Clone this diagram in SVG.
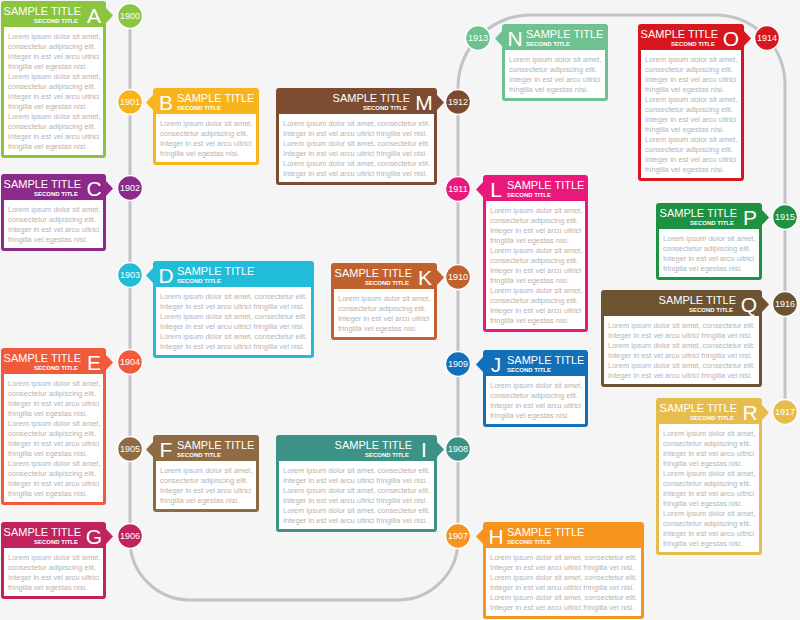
<svg xmlns="http://www.w3.org/2000/svg" width="800" height="620" viewBox="0 0 800 620">
<style>
.bg{fill:#f5f5f5}
.track{fill:none;stroke:#c3c3c7;stroke-width:3}
.panel{fill:#ffffff}
.t{font-family:"Liberation Sans",Arial,sans-serif;fill:#ffffff}
.tt{font-size:11px}
.st{font-size:6px;font-weight:bold}
.lt{font-size:21px}
.body{font-family:"Liberation Sans",Arial,sans-serif;font-size:7.5px;fill:#b4b4b4}
.dot{stroke:#ffffff;stroke-width:1.5}
.yr{font-family:"Liberation Sans",Arial,sans-serif;font-size:9px;fill:#ffffff;text-anchor:middle}
.e{text-anchor:end}
.m{text-anchor:middle}
</style>
<rect class="bg" x="0" y="0" width="800" height="620"/>
<g id="connectors">
<path class="track" d="M130,16 V540 A60,60 0 0 0 190,600 H398 A60,60 0 0 0 458,540 V88 A73,73 0 0 1 531,15 H715 A70,70 0 0 1 785,85 V412"/>
</g>

<g id="node-A" fill="#8bc53f">
<g transform="translate(1,1)">
<rect width="105" height="157" rx="3"/><polygon points="105,7 112,14.5 105,22"/>
<rect class="panel" x="3" y="26" width="99" height="128"/>
<text class="t tt e" x="80" y="14">SAMPLE TITLE</text>
<text class="t st e" x="77" y="22">SECOND TITLE</text>
<text class="t lt m" x="93" y="22">A</text>
<text class="body" x="7" y="38"><tspan x="7">Lorem ipsum dolor sit amet,</tspan><tspan x="7" dy="10">consectetur adipiscing elit.</tspan><tspan x="7" dy="10">Integer in est vel arcu ultrici</tspan><tspan x="7" dy="10">fringilla vel egestas nisi.</tspan><tspan x="7" dy="10">Lorem ipsum dolor sit amet,</tspan><tspan x="7" dy="10">consectetur adipiscing elit.</tspan><tspan x="7" dy="10">Integer in est vel arcu ultrici</tspan><tspan x="7" dy="10">fringilla vel egestas nisi.</tspan><tspan x="7" dy="10">Lorem ipsum dolor sit amet,</tspan><tspan x="7" dy="10">consectetur adipiscing elit.</tspan><tspan x="7" dy="10">Integer in est vel arcu ultrici</tspan><tspan x="7" dy="10">fringilla vel egestas nisi.</tspan></text>
</g>
<circle class="dot" cx="130" cy="16" r="12.5"/><text class="yr" x="130" y="19">1900</text>
</g>

<g id="node-B" fill="#f8b41c">
<g transform="translate(153,88)">
<rect width="106" height="77" rx="3"/><polygon points="0,7 -7,14.5 0,22"/>
<rect class="panel" x="3" y="26" width="100" height="48"/>
<text class="t tt" x="24" y="14">SAMPLE TITLE</text>
<text class="t st" x="24" y="22">SECOND TITLE</text>
<text class="t lt m" x="13" y="22">B</text>
<text class="body" x="7" y="38"><tspan x="7">Lorem ipsum dolor sit amet,</tspan><tspan x="7" dy="10">consectetur adipiscing elit.</tspan><tspan x="7" dy="10">Integer in est vel arcu ultrici</tspan><tspan x="7" dy="10">fringilla vel egestas nisi.</tspan></text>
</g>
<circle class="dot" cx="130" cy="102" r="12.5"/><text class="yr" x="130" y="105">1901</text>
</g>

<g id="node-C" fill="#8b2a8a">
<g transform="translate(1,174)">
<rect width="105" height="77" rx="3"/><polygon points="105,7 112,14.5 105,22"/>
<rect class="panel" x="3" y="26" width="99" height="48"/>
<text class="t tt e" x="80" y="14">SAMPLE TITLE</text>
<text class="t st e" x="77" y="22">SECOND TITLE</text>
<text class="t lt m" x="93" y="22">C</text>
<text class="body" x="7" y="38"><tspan x="7">Lorem ipsum dolor sit amet,</tspan><tspan x="7" dy="10">consectetur adipiscing elit.</tspan><tspan x="7" dy="10">Integer in est vel arcu ultrici</tspan><tspan x="7" dy="10">fringilla vel egestas nisi.</tspan></text>
</g>
<circle class="dot" cx="130" cy="188" r="12.5"/><text class="yr" x="130" y="191">1902</text>
</g>

<g id="node-D" fill="#21bcd8">
<g transform="translate(153,261)">
<rect width="161" height="97" rx="3"/><polygon points="0,7 -7,14.5 0,22"/>
<rect class="panel" x="3" y="26" width="155" height="68"/>
<text class="t tt" x="24" y="14">SAMPLE TITLE</text>
<text class="t st" x="24" y="22">SECOND TITLE</text>
<text class="t lt m" x="13" y="22">D</text>
<text class="body" x="7" y="38"><tspan x="7">Lorem ipsum dolor sit amet, consectetur elit.</tspan><tspan x="7" dy="10">Integer in est vel arcu ultrici fringilla vel nisi.</tspan><tspan x="7" dy="10">Lorem ipsum dolor sit amet, consectetur elit.</tspan><tspan x="7" dy="10">Integer in est vel arcu ultrici fringilla vel nisi.</tspan><tspan x="7" dy="10">Lorem ipsum dolor sit amet, consectetur elit.</tspan><tspan x="7" dy="10">Integer in est vel arcu ultrici fringilla vel nisi.</tspan></text>
</g>
<circle class="dot" cx="130" cy="275" r="12.5"/><text class="yr" x="130" y="278">1903</text>
</g>

<g id="node-E" fill="#f15a3a">
<g transform="translate(1,348)">
<rect width="105" height="157" rx="3"/><polygon points="105,7 112,14.5 105,22"/>
<rect class="panel" x="3" y="26" width="99" height="128"/>
<text class="t tt e" x="80" y="14">SAMPLE TITLE</text>
<text class="t st e" x="77" y="22">SECOND TITLE</text>
<text class="t lt m" x="93" y="22">E</text>
<text class="body" x="7" y="38"><tspan x="7">Lorem ipsum dolor sit amet,</tspan><tspan x="7" dy="10">consectetur adipiscing elit.</tspan><tspan x="7" dy="10">Integer in est vel arcu ultrici</tspan><tspan x="7" dy="10">fringilla vel egestas nisi.</tspan><tspan x="7" dy="10">Lorem ipsum dolor sit amet,</tspan><tspan x="7" dy="10">consectetur adipiscing elit.</tspan><tspan x="7" dy="10">Integer in est vel arcu ultrici</tspan><tspan x="7" dy="10">fringilla vel egestas nisi.</tspan><tspan x="7" dy="10">Lorem ipsum dolor sit amet,</tspan><tspan x="7" dy="10">consectetur adipiscing elit.</tspan><tspan x="7" dy="10">Integer in est vel arcu ultrici</tspan><tspan x="7" dy="10">fringilla vel egestas nisi.</tspan></text>
</g>
<circle class="dot" cx="130" cy="362" r="12.5"/><text class="yr" x="130" y="365">1904</text>
</g>

<g id="node-F" fill="#8e6b43">
<g transform="translate(153,435)">
<rect width="106" height="77" rx="3"/><polygon points="0,7 -7,14.5 0,22"/>
<rect class="panel" x="3" y="26" width="100" height="48"/>
<text class="t tt" x="24" y="14">SAMPLE TITLE</text>
<text class="t st" x="24" y="22">SECOND TITLE</text>
<text class="t lt m" x="13" y="22">F</text>
<text class="body" x="7" y="38"><tspan x="7">Lorem ipsum dolor sit amet,</tspan><tspan x="7" dy="10">consectetur adipiscing elit.</tspan><tspan x="7" dy="10">Integer in est vel arcu ultrici</tspan><tspan x="7" dy="10">fringilla vel egestas nisi.</tspan></text>
</g>
<circle class="dot" cx="130" cy="449" r="12.5"/><text class="yr" x="130" y="452">1905</text>
</g>

<g id="node-G" fill="#c1235e">
<g transform="translate(1,522)">
<rect width="105" height="77" rx="3"/><polygon points="105,7 112,14.5 105,22"/>
<rect class="panel" x="3" y="26" width="99" height="48"/>
<text class="t tt e" x="80" y="14">SAMPLE TITLE</text>
<text class="t st e" x="77" y="22">SECOND TITLE</text>
<text class="t lt m" x="93" y="22">G</text>
<text class="body" x="7" y="38"><tspan x="7">Lorem ipsum dolor sit amet,</tspan><tspan x="7" dy="10">consectetur adipiscing elit.</tspan><tspan x="7" dy="10">Integer in est vel arcu ultrici</tspan><tspan x="7" dy="10">fringilla vel egestas nisi.</tspan></text>
</g>
<circle class="dot" cx="130" cy="536" r="12.5"/><text class="yr" x="130" y="539">1906</text>
</g>

<g id="node-H" fill="#f7941d">
<g transform="translate(483,522)">
<rect width="161" height="97" rx="3"/><polygon points="0,7 -7,14.5 0,22"/>
<rect class="panel" x="3" y="26" width="155" height="68"/>
<text class="t tt" x="24" y="14">SAMPLE TITLE</text>
<text class="t st" x="24" y="22">SECOND TITLE</text>
<text class="t lt m" x="13" y="22">H</text>
<text class="body" x="7" y="38"><tspan x="7">Lorem ipsum dolor sit amet, consectetur elit.</tspan><tspan x="7" dy="10">Integer in est vel arcu ultrici fringilla vel nisi.</tspan><tspan x="7" dy="10">Lorem ipsum dolor sit amet, consectetur elit.</tspan><tspan x="7" dy="10">Integer in est vel arcu ultrici fringilla vel nisi.</tspan><tspan x="7" dy="10">Lorem ipsum dolor sit amet, consectetur elit.</tspan><tspan x="7" dy="10">Integer in est vel arcu ultrici fringilla vel nisi.</tspan></text>
</g>
<circle class="dot" cx="458" cy="536" r="12.5"/><text class="yr" x="458" y="539">1907</text>
</g>

<g id="node-I" fill="#3c9287">
<g transform="translate(276,435)">
<rect width="161" height="97" rx="3"/><polygon points="161,7 168,14.5 161,22"/>
<rect class="panel" x="3" y="26" width="155" height="68"/>
<text class="t tt e" x="136" y="14">SAMPLE TITLE</text>
<text class="t st e" x="133" y="22">SECOND TITLE</text>
<text class="t lt m" x="148" y="22">I</text>
<text class="body" x="7" y="38"><tspan x="7">Lorem ipsum dolor sit amet, consectetur elit.</tspan><tspan x="7" dy="10">Integer in est vel arcu ultrici fringilla vel nisi.</tspan><tspan x="7" dy="10">Lorem ipsum dolor sit amet, consectetur elit.</tspan><tspan x="7" dy="10">Integer in est vel arcu ultrici fringilla vel nisi.</tspan><tspan x="7" dy="10">Lorem ipsum dolor sit amet, consectetur elit.</tspan><tspan x="7" dy="10">Integer in est vel arcu ultrici fringilla vel nisi.</tspan></text>
</g>
<circle class="dot" cx="458" cy="449" r="12.5"/><text class="yr" x="458" y="452">1908</text>
</g>

<g id="node-J" fill="#1170b8">
<g transform="translate(483,350)">
<rect width="105" height="77" rx="3"/><polygon points="0,7 -7,14.5 0,22"/>
<rect class="panel" x="3" y="26" width="99" height="48"/>
<text class="t tt" x="24" y="14">SAMPLE TITLE</text>
<text class="t st" x="24" y="22">SECOND TITLE</text>
<text class="t lt m" x="13" y="22">J</text>
<text class="body" x="7" y="38"><tspan x="7">Lorem ipsum dolor sit amet,</tspan><tspan x="7" dy="10">consectetur adipiscing elit.</tspan><tspan x="7" dy="10">Integer in est vel arcu ultrici</tspan><tspan x="7" dy="10">fringilla vel egestas nisi.</tspan></text>
</g>
<circle class="dot" cx="458" cy="364" r="12.5"/><text class="yr" x="458" y="367">1909</text>
</g>

<g id="node-K" fill="#c1612e">
<g transform="translate(331,263)">
<rect width="106" height="77" rx="3"/><polygon points="106,7 113,14.5 106,22"/>
<rect class="panel" x="3" y="26" width="100" height="48"/>
<text class="t tt e" x="81" y="14">SAMPLE TITLE</text>
<text class="t st e" x="78" y="22">SECOND TITLE</text>
<text class="t lt m" x="94" y="22">K</text>
<text class="body" x="7" y="38"><tspan x="7">Lorem ipsum dolor sit amet,</tspan><tspan x="7" dy="10">consectetur adipiscing elit.</tspan><tspan x="7" dy="10">Integer in est vel arcu ultrici</tspan><tspan x="7" dy="10">fringilla vel egestas nisi.</tspan></text>
</g>
<circle class="dot" cx="458" cy="277" r="12.5"/><text class="yr" x="458" y="280">1910</text>
</g>

<g id="node-L" fill="#e8197b">
<g transform="translate(483,175)">
<rect width="105" height="157" rx="3"/><polygon points="0,7 -7,14.5 0,22"/>
<rect class="panel" x="3" y="26" width="99" height="128"/>
<text class="t tt" x="24" y="14">SAMPLE TITLE</text>
<text class="t st" x="24" y="22">SECOND TITLE</text>
<text class="t lt m" x="13" y="22">L</text>
<text class="body" x="7" y="38"><tspan x="7">Lorem ipsum dolor sit amet,</tspan><tspan x="7" dy="10">consectetur adipiscing elit.</tspan><tspan x="7" dy="10">Integer in est vel arcu ultrici</tspan><tspan x="7" dy="10">fringilla vel egestas nisi.</tspan><tspan x="7" dy="10">Lorem ipsum dolor sit amet,</tspan><tspan x="7" dy="10">consectetur adipiscing elit.</tspan><tspan x="7" dy="10">Integer in est vel arcu ultrici</tspan><tspan x="7" dy="10">fringilla vel egestas nisi.</tspan><tspan x="7" dy="10">Lorem ipsum dolor sit amet,</tspan><tspan x="7" dy="10">consectetur adipiscing elit.</tspan><tspan x="7" dy="10">Integer in est vel arcu ultrici</tspan><tspan x="7" dy="10">fringilla vel egestas nisi.</tspan></text>
</g>
<circle class="dot" cx="458" cy="189" r="12.5"/><text class="yr" x="458" y="192">1911</text>
</g>

<g id="node-M" fill="#7c4b30">
<g transform="translate(276,88)">
<rect width="161" height="97" rx="3"/><polygon points="161,7 168,14.5 161,22"/>
<rect class="panel" x="3" y="26" width="155" height="68"/>
<text class="t tt e" x="134" y="14">SAMPLE TITLE</text>
<text class="t st e" x="131" y="22">SECOND TITLE</text>
<text class="t lt m" x="148" y="22">M</text>
<text class="body" x="7" y="38"><tspan x="7">Lorem ipsum dolor sit amet, consectetur elit.</tspan><tspan x="7" dy="10">Integer in est vel arcu ultrici fringilla vel nisi.</tspan><tspan x="7" dy="10">Lorem ipsum dolor sit amet, consectetur elit.</tspan><tspan x="7" dy="10">Integer in est vel arcu ultrici fringilla vel nisi.</tspan><tspan x="7" dy="10">Lorem ipsum dolor sit amet, consectetur elit.</tspan><tspan x="7" dy="10">Integer in est vel arcu ultrici fringilla vel nisi.</tspan></text>
</g>
<circle class="dot" cx="458" cy="102" r="12.5"/><text class="yr" x="458" y="105">1912</text>
</g>

<g id="node-N" fill="#6fc28f">
<g transform="translate(502,24)">
<rect width="106" height="77" rx="3"/><polygon points="0,7 -7,14.5 0,22"/>
<rect class="panel" x="3" y="26" width="100" height="48"/>
<text class="t tt" x="24" y="14">SAMPLE TITLE</text>
<text class="t st" x="24" y="22">SECOND TITLE</text>
<text class="t lt m" x="13" y="22">N</text>
<text class="body" x="7" y="38"><tspan x="7">Lorem ipsum dolor sit amet,</tspan><tspan x="7" dy="10">consectetur adipiscing elit.</tspan><tspan x="7" dy="10">Integer in est vel arcu ultrici</tspan><tspan x="7" dy="10">fringilla vel egestas nisi.</tspan></text>
</g>
<circle class="dot" cx="478" cy="38" r="12.5"/><text class="yr" x="478" y="41">1913</text>
</g>

<g id="node-O" fill="#d8161f">
<g transform="translate(638,24)">
<rect width="106" height="157" rx="3"/><polygon points="106,7 113,14.5 106,22"/>
<rect class="panel" x="3" y="26" width="100" height="128"/>
<text class="t tt e" x="80" y="14">SAMPLE TITLE</text>
<text class="t st e" x="77" y="22">SECOND TITLE</text>
<text class="t lt m" x="93" y="22">O</text>
<text class="body" x="7" y="38"><tspan x="7">Lorem ipsum dolor sit amet,</tspan><tspan x="7" dy="10">consectetur adipiscing elit.</tspan><tspan x="7" dy="10">Integer in est vel arcu ultrici</tspan><tspan x="7" dy="10">fringilla vel egestas nisi.</tspan><tspan x="7" dy="10">Lorem ipsum dolor sit amet,</tspan><tspan x="7" dy="10">consectetur adipiscing elit.</tspan><tspan x="7" dy="10">Integer in est vel arcu ultrici</tspan><tspan x="7" dy="10">fringilla vel egestas nisi.</tspan><tspan x="7" dy="10">Lorem ipsum dolor sit amet,</tspan><tspan x="7" dy="10">consectetur adipiscing elit.</tspan><tspan x="7" dy="10">Integer in est vel arcu ultrici</tspan><tspan x="7" dy="10">fringilla vel egestas nisi.</tspan></text>
</g>
<circle class="dot" cx="767" cy="38" r="12.5"/><text class="yr" x="767" y="41">1914</text>
</g>

<g id="node-P" fill="#1f9142">
<g transform="translate(656,203)">
<rect width="106" height="77" rx="3"/><polygon points="106,7 113,14.5 106,22"/>
<rect class="panel" x="3" y="26" width="100" height="48"/>
<text class="t tt e" x="81" y="14">SAMPLE TITLE</text>
<text class="t st e" x="78" y="22">SECOND TITLE</text>
<text class="t lt m" x="94" y="22">P</text>
<text class="body" x="7" y="38"><tspan x="7">Lorem ipsum dolor sit amet,</tspan><tspan x="7" dy="10">consectetur adipiscing elit.</tspan><tspan x="7" dy="10">Integer in est vel arcu ultrici</tspan><tspan x="7" dy="10">fringilla vel egestas nisi.</tspan></text>
</g>
<circle class="dot" cx="785" cy="217" r="12.5"/><text class="yr" x="785" y="220">1915</text>
</g>

<g id="node-Q" fill="#6c5433">
<g transform="translate(601,290)">
<rect width="161" height="97" rx="3"/><polygon points="161,7 168,14.5 161,22"/>
<rect class="panel" x="3" y="26" width="155" height="68"/>
<text class="t tt e" x="135" y="14">SAMPLE TITLE</text>
<text class="t st e" x="132" y="22">SECOND TITLE</text>
<text class="t lt m" x="148" y="22">Q</text>
<text class="body" x="7" y="38"><tspan x="7">Lorem ipsum dolor sit amet, consectetur elit.</tspan><tspan x="7" dy="10">Integer in est vel arcu ultrici fringilla vel nisi.</tspan><tspan x="7" dy="10">Lorem ipsum dolor sit amet, consectetur elit.</tspan><tspan x="7" dy="10">Integer in est vel arcu ultrici fringilla vel nisi.</tspan><tspan x="7" dy="10">Lorem ipsum dolor sit amet, consectetur elit.</tspan><tspan x="7" dy="10">Integer in est vel arcu ultrici fringilla vel nisi.</tspan></text>
</g>
<circle class="dot" cx="785" cy="304" r="12.5"/><text class="yr" x="785" y="307">1916</text>
</g>

<g id="node-R" fill="#e6bd4c">
<g transform="translate(656,398)">
<rect width="106" height="157" rx="3"/><polygon points="106,7 113,14.5 106,22"/>
<rect class="panel" x="3" y="26" width="100" height="128"/>
<text class="t tt e" x="81" y="14">SAMPLE TITLE</text>
<text class="t st e" x="78" y="22">SECOND TITLE</text>
<text class="t lt m" x="94" y="22">R</text>
<text class="body" x="7" y="38"><tspan x="7">Lorem ipsum dolor sit amet,</tspan><tspan x="7" dy="10">consectetur adipiscing elit.</tspan><tspan x="7" dy="10">Integer in est vel arcu ultrici</tspan><tspan x="7" dy="10">fringilla vel egestas nisi.</tspan><tspan x="7" dy="10">Lorem ipsum dolor sit amet,</tspan><tspan x="7" dy="10">consectetur adipiscing elit.</tspan><tspan x="7" dy="10">Integer in est vel arcu ultrici</tspan><tspan x="7" dy="10">fringilla vel egestas nisi.</tspan><tspan x="7" dy="10">Lorem ipsum dolor sit amet,</tspan><tspan x="7" dy="10">consectetur adipiscing elit.</tspan><tspan x="7" dy="10">Integer in est vel arcu ultrici</tspan><tspan x="7" dy="10">fringilla vel egestas nisi.</tspan></text>
</g>
<circle class="dot" cx="785" cy="412" r="12.5"/><text class="yr" x="785" y="415">1917</text>
</g>
</svg>
